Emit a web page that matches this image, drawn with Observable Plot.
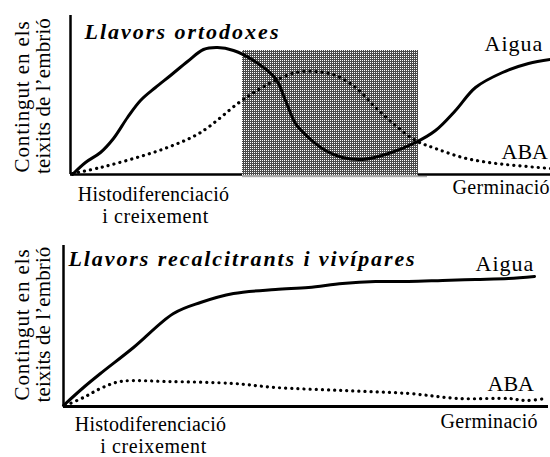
<!DOCTYPE html>
<html><head><meta charset="utf-8">
<style>
body{margin:0;background:#fff}
#chart svg{display:block;overflow:visible}
#chart svg text{font-family:'Liberation Serif' !important}
.fontwarm{position:absolute;left:-200px;top:0;font-family:'Liberation Serif';font-size:10px;color:#fff}
</style>
<script src="https://cdn.jsdelivr.net/npm/d3@7"></script>
<script src="https://cdn.jsdelivr.net/npm/@observablehq/plot@0.6"></script>
</head><body>
<div class="fontwarm" aria-hidden="true">.<b><i>.</i></b></div>
<div id="chart"></div>
<script>
// ---- Panel 1: Llavors ortodoxes (arbitrary units) ----
const ortoAiguaX = [2, 15, 30, 43, 57, 70, 85, 100, 117, 133, 147, 163, 183, 205, 215, 225, 238, 255, 272, 292, 318, 345, 365, 385, 405, 432, 458, 480];
const ortoAiguaY = [0, 12, 22, 36, 57, 74, 87, 99, 113, 125, 127, 124, 114, 96, 74, 51, 37, 24, 17, 15, 21, 32, 44, 64, 87, 102, 111, 115];
const ortoAbaX = [2, 30, 63, 97, 130, 170, 190, 205, 225, 245, 265, 285, 305, 325, 345, 365, 392, 418, 445, 480];
const ortoAbaY = [1, 7, 16, 27, 42, 73, 86, 94, 102, 103, 99, 87, 67, 49, 34, 26, 17, 12, 9, 6];
const ortoDormancy = [172, 348, 124]; // start, end, top

// ---- Panel 2: Llavors recalcitrants i vivípares ----
const recAiguaX = [0, 20, 37, 70, 110, 137, 170, 212, 245, 279, 312, 345, 379, 412, 445, 471];
const recAiguaY = [1, 19, 33, 59, 93, 104, 113, 117, 119, 123, 125, 125, 126, 127, 128, 130];
const recAbaX = [2, 20, 37, 57, 104, 170, 212, 279, 345, 395, 445, 462, 482];
const recAbaY = [1, 9, 18, 25, 25, 23, 19, 16, 13, 8, 8, 6, 8];

// ---- Texts ----
const titles = ["Llavors ortodoxes", "Llavors recalcitrants i vivípares"];
const seriesNames = ["Aigua", "ABA"];
const xStartLabel = ["Histodiferenciació", "i creixement"];
const xEndLabel = "Germinació";
const yLabel = ["Contingut en els", "teixits de l’embrió"];

const F = "Liberation Serif";
const toRows = (xs, ys) => xs.map((x, i) => ({x, y: ys[i]}));

function txt(s, x, y, o = {}) {
  return Plot.text([s], {x, y, text: d => d, fill: "black", fontSize: 22, lineAnchor: "bottom", textAnchor: "start", fontFamily: F, ...o});
}

function panel({height, xr, yr, xd, yd, aigua, aba, dorm, title, labels, baseW}) {
  const marks = [];
  if (dorm) {
    marks.push(Plot.ruleY([0], {x1: 0, x2: dorm[0], stroke: "black", strokeWidth: baseW}));
    marks.push(Plot.ruleY([0], {x1: dorm[1], x2: xd[1], stroke: "black", strokeWidth: baseW}));
    marks.push(Plot.rect([0], {x1: dorm[0], x2: dorm[1], y1: -1.5, y2: dorm[2], fill: "url(#stip)"}));
    marks.push(Plot.ruleY([-2.2], {x1: dorm[0], x2: dorm[1] + 9, stroke: "#999", strokeWidth: 1}));
  } else {
    marks.push(Plot.ruleY([0], {x1: 0, x2: xd[1], stroke: "black", strokeWidth: baseW}));
  }
  marks.push(Plot.ruleX([0], {y1: 0, y2: yd[1], stroke: "black", strokeWidth: 2.5}));
  marks.push(Plot.line(aba, {x: "x", y: "y", curve: "catmull-rom", stroke: "black", strokeWidth: 3.2, strokeDasharray: "0.1,6", strokeLinecap: "round"}));
  marks.push(Plot.line(aigua, {x: "x", y: "y", curve: "catmull-rom", stroke: "black", strokeWidth: 3}));
  marks.push(txt(title, labels.title[0], labels.title[1], {fontWeight: "bold", fontStyle: "italic"}));
  marks.push(txt(seriesNames[0], labels.aigua[0], labels.aigua[1]));
  marks.push(txt(seriesNames[1], labels.aba[0], labels.aba[1]));
  marks.push(txt(xEndLabel, labels.germ[0], labels.germ[1], {fontSize: 20}));
  marks.push(txt(xStartLabel[0], labels.histo[0], labels.histo[1], {fontSize: 20, textAnchor: "middle"}));
  marks.push(txt(xStartLabel[1], labels.creix[0], labels.creix[1], {fontSize: 20, textAnchor: "middle"}));
  marks.push(txt(yLabel[0], labels.y1[0], labels.y1[1], {fontSize: 21, rotate: -90, textAnchor: "middle", lineAnchor: "middle"}));
  marks.push(txt(yLabel[1], labels.y2[0], labels.y2[1], {fontSize: 21, rotate: -90, textAnchor: "middle", lineAnchor: "middle"}));
  const svg = Plot.plot({
    width: 550, height,
    margin: 0,
    x: {domain: xd, range: xr, axis: null},
    y: {domain: yd, range: yr, axis: null},
    style: {background: "white", fontFamily: F, overflow: "visible"},
    marks
  });
  svg.setAttribute("font-family", F);
  const spacing = {
    [titles[0]]: 2, [titles[1]]: 1.9, "Aigua": 1, "ABA": 0, [xEndLabel]: 0.3,
    [xStartLabel[0]]: 0.2, [xStartLabel[1]]: 0.6, [yLabel[0]]: 0.9, [yLabel[1]]: 0.1
  };
  svg.querySelectorAll("text").forEach(t => {
    const s = spacing[t.textContent];
    if (s) t.setAttribute("letter-spacing", s);
    t.setAttribute("font-family", F);
  });
  return svg;
}

const topPanel = panel({
  height: 228, xr: [70, 550], yr: [174, 15], xd: [0, 480], yd: [0, 159],
  aigua: toRows(ortoAiguaX, ortoAiguaY), aba: toRows(ortoAbaX, ortoAbaY), dorm: ortoDormancy,
  title: titles[0], baseW: 2.5,
  labels: {title: [14, 136], aigua: [414, 124], aba: [431, 16], germ: [382, -19], histo: [83, -26], creix: [85, -48], y1: [-48, 78], y2: [-27, 78.5]}
});
const bottomPanel = panel({
  height: 229, xr: [63, 548], yr: [178, 17], xd: [0, 485], yd: [0, 161],
  aigua: toRows(recAiguaX, recAiguaY), aba: toRows(recAbaX, recAbaY), dorm: null,
  title: titles[1], baseW: 3,
  labels: {title: [5, 141], aigua: [412, 136], aba: [424, 16], germ: [377, -21], histo: [87, -24], creix: [90, -46], y1: [-41, 82], y2: [-20, 82]}
});

// stipple pattern for the dormancy box
const defs = d3.select(topPanel).insert("defs", ":first-child");
const pat = defs.append("pattern").attr("id", "stip").attr("width", 2).attr("height", 2).attr("patternUnits", "userSpaceOnUse");
pat.append("rect").attr("width", 2).attr("height", 2).attr("fill", "#4a4a4a");
pat.append("rect").attr("width", 1).attr("height", 1).attr("fill", "#fff");

document.getElementById("chart").append(topPanel, bottomPanel);
</script></body></html>
